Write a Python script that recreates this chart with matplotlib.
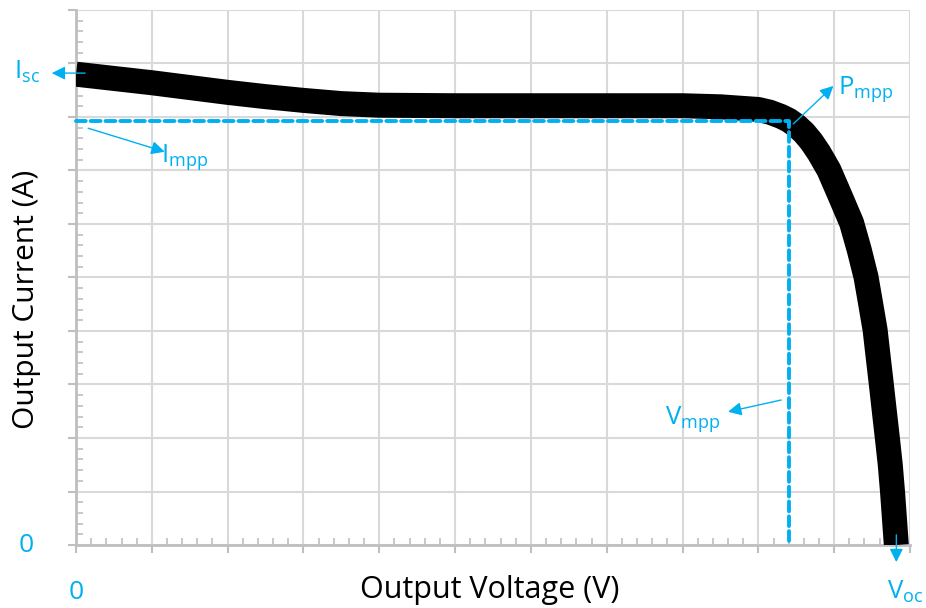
import matplotlib
matplotlib.use("Agg")
import matplotlib.pyplot as plt
from matplotlib.ticker import MultipleLocator, NullFormatter

plt.rcParams['font.family'] = ['Open Sans', 'DejaVu Sans']
plt.rcParams['mathtext.fontset'] = 'custom'
plt.rcParams['mathtext.rm'] = 'Open Sans'
plt.rcParams['mathtext.it'] = 'Open Sans'

BLUE = '#00B0F0'
GRID = '#D9D9D9'
SPINE = '#BFBFBF'

# I-V curve (arbitrary units, grid = 1 unit)
voltage = [0.0, 0.5, 1.0, 1.5, 2.0, 2.5, 3.0, 3.5, 4.0, 5.0, 6.0, 7.0, 8.0, 8.5,
           9.0, 9.15, 9.3, 9.4, 9.5, 9.6, 9.7, 9.8, 9.93, 10.08, 10.23, 10.33,
           10.42, 10.48, 10.54, 10.58, 10.62, 10.66, 10.70, 10.74, 10.77, 10.82]
current = [8.80, 8.72, 8.64, 8.55, 8.46, 8.38, 8.31, 8.25, 8.22, 8.21, 8.21, 8.21, 8.21, 8.19,
           8.14, 8.09, 8.01, 7.94, 7.84, 7.71, 7.54, 7.33, 7.01, 6.52, 6.02, 5.52,
           5.01, 4.52, 4.02, 3.52, 3.03, 2.52, 2.02, 1.50, 0.99, 0.0]

v_mpp = 9.41
i_mpp = 7.93
v_oc = 10.82
i_sc = 8.82

fig = plt.figure(figsize=(9.26, 6.08), dpi=100)
ax = fig.add_axes([0.0821, 0.1036, 0.9006, 0.88])

ax.set_xlim(0, 11)
ax.set_ylim(0, 10)

ax.plot(voltage, current, color='black', linewidth=18, solid_capstyle='butt',
        solid_joinstyle='round', zorder=3)

# mpp dashed guides
ax.plot([0, v_mpp, v_mpp], [i_mpp, i_mpp, 0], color=BLUE, linewidth=2.8,
        dashes=(2.5, 1.3), dash_capstyle='round', zorder=4, clip_on=False)

# grid and ticks
ax.xaxis.set_major_locator(MultipleLocator(1))
ax.yaxis.set_major_locator(MultipleLocator(1))
ax.xaxis.set_minor_locator(MultipleLocator(0.2))
ax.yaxis.set_minor_locator(MultipleLocator(0.2))
ax.xaxis.set_major_formatter(NullFormatter())
ax.yaxis.set_major_formatter(NullFormatter())
ax.grid(True, which='major', color=GRID, linewidth=1.5, zorder=0)
ax.set_axisbelow(True)
ax.tick_params(which='major', direction='out', length=6, width=1.5, color=SPINE)
ax.tick_params(which='minor', direction='in', length=5, width=1.2, color=SPINE)
for side in ['top', 'right']:
    ax.spines[side].set_visible(False)
for side in ['left', 'bottom']:
    ax.spines[side].set_color(SPINE)
    ax.spines[side].set_linewidth(2)

ax.set_xlabel('Output Voltage (V)', fontsize=22)
ax.set_ylabel('Output Current (A)', fontsize=21.5)
ax.xaxis.set_label_coords(0.496, -0.085)
ax.yaxis.set_label_coords(-0.059, 0.46)
ax.xaxis.label.set_va('center')
ax.yaxis.label.set_va('center')

ax.text(-0.66, 0, '0', color=BLUE, fontsize=19, ha='center', va='center')
ax.text(0, -0.88, '0', color=BLUE, fontsize=19, ha='center', va='center')

arrow = dict(arrowstyle='-|>', color=BLUE, lw=1, mutation_scale=20, shrinkA=0, shrinkB=0)

ax.annotate('', xy=(-0.32, i_sc), xytext=(0.12, i_sc), arrowprops=arrow,
            annotation_clip=False, zorder=5)
ax.text(-0.82, 8.84, r'I$_{\mathregular{sc}}$', color=BLUE, fontsize=18.5,
        ha='left', va='center')

ax.annotate('', xy=(1.17, 7.35), xytext=(0.16, 7.79), arrowprops=arrow,
            annotation_clip=False, zorder=5)
ax.text(1.12, 7.25, r'I$_{\mathregular{mpp}}$', color=BLUE, fontsize=18.5,
        ha='left', va='center')

ax.annotate('', xy=(9.99, 8.58), xytext=(9.46, 7.87), arrowprops=arrow,
            annotation_clip=False, zorder=5)
ax.text(10.05, 8.53, r'P$_{\mathregular{mpp}}$', color=BLUE, fontsize=18.5,
        ha='left', va='center')

ax.annotate('', xy=(8.60, 2.49), xytext=(9.30, 2.71), arrowprops=arrow,
            annotation_clip=False, zorder=5)
ax.text(7.77, 2.35, r'V$_{\mathregular{mpp}}$', color=BLUE, fontsize=18.5,
        ha='left', va='center')

ax.annotate('', xy=(v_oc, -0.32), xytext=(v_oc, 0.19), arrowprops=arrow,
            annotation_clip=False, zorder=5)
ax.text(10.70, -0.88, r'V$_{\mathregular{oc}}$', color=BLUE, fontsize=18.5,
        ha='left', va='center')

fig.savefig('out.png', dpi=100)
